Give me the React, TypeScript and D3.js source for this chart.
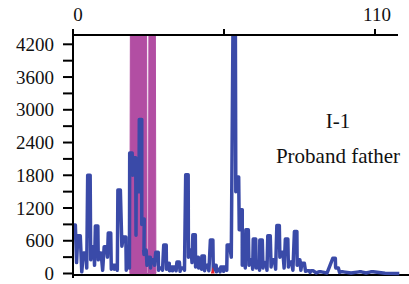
import React from "react";
import * as d3 from "d3";

// Blue trace: peak positions (x units) and heights, plus valley heights between consecutive peaks
const bluePeakX = [
  0.4, 2.2, 4.2, 5.8, 7.1, 8.6, 9.8, 11.8, 13.3, 14.6, 15.5, 16.8, 18.8, 20.0,
  21.1, 22.4, 23.5, 24.6, 25.5, 26.2, 27.7, 28.8, 30.6, 31.7, 33.5, 34.6, 35.7,
  36.8, 38.3, 39.7, 41.5, 42.6, 44.1, 45.2, 46.3, 47.4, 48.5, 50.5, 51.7, 52.8,
  54.3, 55.4, 56.6, 58.7, 59.9, 61.2, 62.1, 63.4, 64.8, 66.1, 67.4, 68.5, 69.9,
  71.4, 72.9, 74.7, 76.0, 77.8, 79.1, 81.1, 82.2, 83.8, 85.6, 87.1, 90.0, 95.1,
  96.2, 98.0, 104.6, 108.9, 118.4,
];
const bluePeakY = [
  890, 690, 375, 1800, 490, 870, 375, 490, 740, 150, 150, 1530, 670, 150,
  2210, 2120, 2100, 2820, 1000, 430, 300, 250, 390, 100, 520, 190, 120,
  120, 210, 100, 1810, 430, 710, 300, 250, 320, 150, 615, 150, 80,
  120, 120, 520, 4370, 1770, 1170, 375, 800, 250, 630, 200, 615, 200,
  690, 250, 880, 390, 630, 210, 770, 250, 190, 50, 50, 30, 280,
  100, 30, 30, 30, 0,
];
const blueValleyY = [
  200, 30, 100, 250, 150, 250, 60, 300, 80, 80, 60, 500, 60, 100,
  1800, 700, 1500, 900, 350, 150, 100, 150, 60, 60, 80, 50, 50,
  50, 40, 60, 300, 200, 120, 100, 80, 50, 50, 60, 30, 30,
  40, 60, 300, 1500, 800, 150, 100, 150, 80, 100, 60, 100, 60,
  120, 80, 300, 100, 120, 60, 150, 60, 40, 20, 10, 10, 120,
  20, 10, 10, 5,
];

// Magenta trace (two large off-scale peaks)
const magentaX = [20.7, 21.1, 26.6, 27.0, 27.5, 27.8, 29.8, 30.2];
const magentaY = [0, 9000, 9000, 0, 0, 9000, 9000, 0];

// Red trace (small peak)
const redX = [50.2, 50.9, 51.6];
const redY = [0, 120, 0];

const topTicks = [0, 55, 110];
const topTickLabels = ["0", "", "110"];
const leftTicks = d3.range(0, 4201, 300);
const leftTickLabels = [0, 600, 1200, 1800, 2400, 3000, 3600, 4200];

const titleText = "I-1";
const subtitleText = "Proband father";

const W = 409;
const H = 284;
const FONT = "Liberation Serif, serif";

export default function App() {
  const x = d3.scaleLinear().domain([0, 110]).range([73, 375]);
  const y = d3.scaleLinear().domain([0, 4200]).range([273.5, 44.3]);

  const half = 0.45;
  const bluePts: [number, number][] = [];
  bluePeakX.forEach((px, i) => {
    bluePts.push([px - half, bluePeakY[i]]);
    bluePts.push([px + half, bluePeakY[i]]);
    if (i < bluePeakX.length - 1) {
      bluePts.push([(px + bluePeakX[i + 1]) / 2, blueValleyY[i]]);
    }
  });
  const line = d3
    .line<[number, number]>()
    .x((d) => x(d[0]))
    .y((d) => y(d[1]));

  const magArea = d3
    .area<number>()
    .x((_, i) => x(magentaX[i]))
    .y0(y(0))
    .y1((d) => y(d));
  const redArea = d3
    .area<number>()
    .x((_, i) => x(redX[i]))
    .y0(y(0))
    .y1((d) => y(d));

  const textStyle = { fontFamily: FONT };

  return (
    <svg
      width={W}
      height={H}
      style={{ position: "absolute", left: 0, top: 0, background: "#fff" }}
    >
      <defs>
        <clipPath id="plotClip">
          <rect x={73} y={36} width={W - 73} height={H - 36} />
        </clipPath>
      </defs>
      {/* bottom baseline */}
      <line x1={73} x2={W} y1={275} y2={275} stroke="#000" strokeWidth={2} />
      <g clipPath="url(#plotClip)">
        <path d={magArea(magentaY) || ""} fill="#b24ea3" stroke="#b24ea3" strokeWidth={1} />
        <path
          d={line(bluePts) || ""}
          fill="none"
          stroke="#3a4aa8"
          strokeWidth={3.5}
          strokeLinejoin="round"
        />
        <path d={redArea(redY) || ""} fill="#e5202a" />
      </g>
      {/* top axis */}
      <line x1={72} x2={398} y1={35} y2={35} stroke="#000" strokeWidth={2} />
      {topTicks.map((t, i) => (
        <g key={t}>
          <line x1={x(t)} x2={x(t)} y1={35} y2={29} stroke="#000" strokeWidth={2} />
          {topTickLabels[i] && (
            <text x={x(t) + (t === 0 ? 5 : 2)} y={21} fontSize={19} textAnchor="middle" fill="#111" style={textStyle}>
              {topTickLabels[i]}
            </text>
          )}
        </g>
      ))}
      {/* left axis */}
      <line x1={73} x2={73} y1={30} y2={278} stroke="#000" strokeWidth={2} />
      {leftTicks.map((t) => (
        <line key={t} x1={63} x2={73} y1={y(t)} y2={y(t)} stroke="#000" strokeWidth={2} />
      ))}
      {leftTickLabels.map((t) => (
        <text key={t} x={54} y={y(t)} dy="0.35em" fontSize={19} textAnchor="end" fill="#111" style={textStyle}>
          {t}
        </text>
      ))}
      <text x={338} y={128} fontSize={21} textAnchor="middle" fill="#111" style={textStyle}>
        {titleText}
      </text>
      <text x={338} y={163} fontSize={21} textAnchor="middle" fill="#111" style={textStyle}>
        {subtitleText}
      </text>
    </svg>
  );
}
